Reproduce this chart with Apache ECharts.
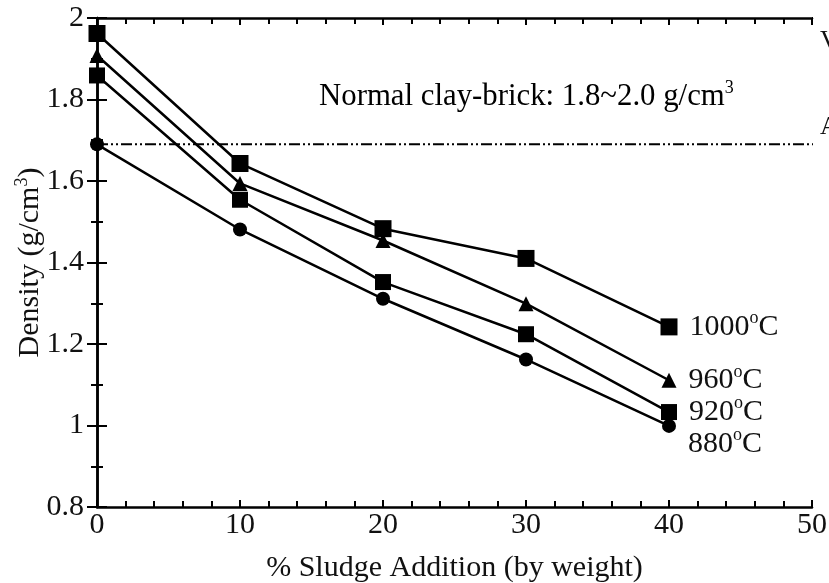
<!DOCTYPE html>
<html>
<head>
<meta charset="utf-8">
<script src="https://cdn.jsdelivr.net/npm/echarts@6/dist/echarts.min.js"></script>
<style>html,body{margin:0;padding:0;background:#fff}#c{width:829px;height:583px}</style>
</head>
<body>
<div id="c"></div>
<script>
const xValues = [0, 10, 20, 30, 40];
const d1000 = [1.962, 1.643, 1.483, 1.410, 1.242];
const d960 = [1.908, 1.594, 1.454, 1.299, 1.111];
const d920 = [1.859, 1.554, 1.352, 1.224, 1.033];
const d880 = [1.690, 1.481, 1.311, 1.162, 0.999];
const tempLabels = ['1000', '960', '920', '880'];
const refValue = 1.69;
const yTicks = [0.8, 1, 1.2, 1.4, 1.6, 1.8, 2];
const xTicks = [0, 10, 20, 30, 40, 50];
const annotation = 'Normal clay-brick: 1.8~2.0 g/cm';

const FONT = 'Liberation Serif';
const FS = 30;
const chart = echarts.init(document.getElementById('c'));

const rich = {
  a: { fontFamily: FONT, fontSize: FS, color: '#111' },
  s: { fontFamily: FONT, fontSize: 18, color: '#111', padding: [0, 0, 17, 0] }
};
const richBig = {
  a: { fontFamily: FONT, fontSize: 30.8, color: '#111' },
  s: { fontFamily: FONT, fontSize: 18, color: '#111', padding: [0, 0, 17, 0] }
};

function mkSeries(vals, name, symbol, size, labelOffsetY) {
  return {
    type: 'line', name: name + '°C',
    data: vals.map((v, i) => {
      const item = { value: [xValues[i], v] };
      if (i === vals.length - 1) {
        item.label = {
          show: true, position: 'right', distance: 12,
          offset: [0, labelOffsetY],
          formatter: '{a|' + name + '}{s|o}{a|C}', rich: rich
        };
      }
      return item;
    }),
    symbol: symbol, symbolSize: size,
    itemStyle: { color: '#000' },
    lineStyle: { color: '#000', width: 2.5 },
    z: 3
  };
}

const tickStyle = { color: '#000', width: 2 };
const option = {
  animation: false,
  backgroundColor: '#fff',
  grid: { left: 97, right: 17, top: 18, bottom: 76, containLabel: false, outerBoundsMode: 'none' },
  xAxis: [{
    type: 'value', min: 0, max: 50, interval: 10,
    axisLine: { show: true, lineStyle: { color: '#000', width: 2.5 } },
    axisTick: { show: true, inside: true, length: 7, lineStyle: tickStyle },
    minorTick: { show: true, splitNumber: 5, length: 6, lineStyle: tickStyle },
    splitLine: { show: false },
    axisLabel: { fontFamily: FONT, fontSize: FS, color: '#111', margin: 3 },
    name: '% Sludge Addition (by weight)', nameLocation: 'middle', nameGap: 46,
    nameMoveOverlap: false,
    nameTextStyle: { fontFamily: FONT, fontSize: FS, color: '#111' }
  }, {
    type: 'value', min: 0, max: 50, interval: 10, position: 'top',
    axisLine: { show: true, lineStyle: { color: '#000', width: 2.5 } },
    axisTick: { show: true, inside: true, length: 7, lineStyle: tickStyle },
    minorTick: { show: true, splitNumber: 5, length: 6, lineStyle: tickStyle },
    splitLine: { show: false }, axisLabel: { show: false }
  }],
  yAxis: [{
    type: 'value', min: 0.8, max: 2, interval: 0.2,
    axisLine: { show: true, lineStyle: { color: '#000', width: 2.5 } },
    axisTick: { show: true, inside: true, length: 10, lineStyle: tickStyle },
    minorTick: { show: true, splitNumber: 2, length: 6, lineStyle: tickStyle },
    splitLine: { show: false },
    axisLabel: { fontFamily: FONT, fontSize: FS, color: '#111', margin: 13 },
    name: '{a|Density (g/cm}{s|3}{a|)}', nameLocation: 'middle', nameGap: 49,
    nameMoveOverlap: false,
    nameTextStyle: { rich: rich }
  }, {
    type: 'value', min: 0.8, max: 2, interval: 0.2, position: 'right',
    axisLine: { show: true, lineStyle: { color: '#000', width: 2.5 } },
    axisTick: { show: true, inside: true, length: 10, lineStyle: tickStyle },
    minorTick: { show: true, splitNumber: 2, length: 6, lineStyle: tickStyle },
    splitLine: { show: false }, axisLabel: { show: false }
  }],
  series: [
    {
      type: 'line', name: 'ref', data: [[0, refValue], [51.3, refValue]],
      symbol: 'none', clip: false, silent: true,
      lineStyle: { color: '#000', width: 2, type: [11, 3, 2, 3, 2, 3] }, z: 1
    },
    {
      type: 'line', name: 'topref', data: [[50, 2], [51.3, 2]],
      symbol: 'none', clip: false, silent: true,
      lineStyle: { color: '#000', width: 2, type: [5, 3, 2, 3] }, z: 1
    },
    mkSeries(d1000, tempLabels[0], 'rect', 17, 0),
    mkSeries(d960, tempLabels[1], 'triangle', 15, 0),
    mkSeries(d920, tempLabels[2], 'rect', 16, 0),
    mkSeries(d880, tempLabels[3], 'circle', 14, 18)
  ],
  graphic: [{
    type: 'text', left: 319, top: 79,
    style: { text: '{a|' + annotation + '}{s|3}', rich: richBig }
  }, {
    type: 'text', left: 820, top: 28,
    style: { text: 'V', fontFamily: FONT, fontSize: 26, fill: '#111' }
  }, {
    type: 'text', left: 820, top: 114,
    style: { text: 'A', fontFamily: FONT, fontSize: 26, fill: '#111' }
  }]
};
chart.setOption(option);
</script>
</body>
</html>
